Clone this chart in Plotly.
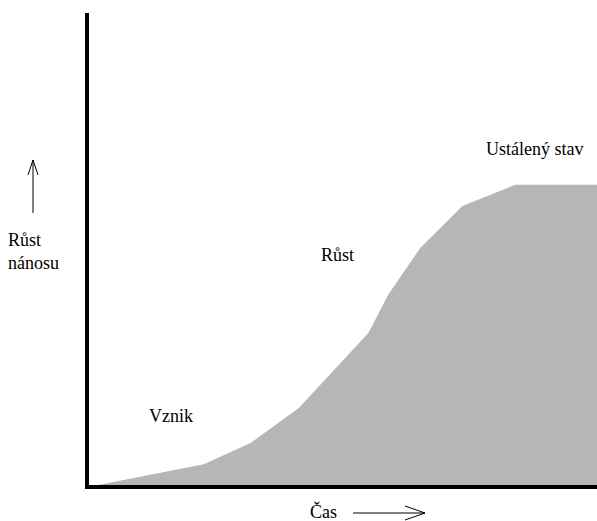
import plotly.graph_objects as go

# Data (arbitrary units)
time_vals = [1.8, 22.6, 31.8, 41.3, 55.0, 58.9, 65.2, 73.5, 83.9, 100.0]
growth_vals = [0.0, 4.4, 8.9, 16.3, 32.2, 40.3, 50.2, 59.1, 63.6, 63.6]

phase_labels = ["Vznik", "Růst", "Ustálený stav"]
phase_x = [16.1, 48.9, 87.6]
phase_y = [14.6, 48.7, 71.2]

y_label = "Růst<br>nánosu"
x_label = "Čas"

W, H = 597, 521
L, R, T, B = 89, 0, 13, 36
pw = W - L - R
ph = H - T - B


def px(x):
    return (x - L) / pw


def py(y):
    return (H - B - y) / ph


FONT = dict(family="'Liberation Serif', 'Times New Roman', 'DejaVu Serif', serif",
            size=18, color="black")

fig = go.Figure()
fig.add_trace(go.Scatter(
    x=time_vals, y=growth_vals, mode="lines", fill="tozeroy",
    line=dict(width=0, color="#b4b4b4"), fillcolor="#b6b6b6",
    hoverinfo="skip", showlegend=False,
))

annotations = []
for lab, xv, yv in zip(phase_labels, phase_x, phase_y):
    annotations.append(dict(x=xv, y=yv, xref="x", yref="y", text=lab,
                            showarrow=False, font=FONT))
annotations.append(dict(x=px(6), y=py(251), xref="paper", yref="paper", text=y_label,
                        showarrow=False, xanchor="left", yanchor="middle", align="left",
                        font=FONT))
annotations.append(dict(x=px(323), y=py(511), xref="paper", yref="paper", text=x_label,
                        showarrow=False, xanchor="center", yanchor="middle", font=FONT))

shapes = []
line_style = dict(color="black", width=1)
# vertical arrow
shapes.append(dict(type="line", xref="paper", yref="paper",
                   x0=px(33), y0=py(213), x1=px(33), y1=py(160), line=line_style))
shapes.append(dict(type="path", xref="paper", yref="paper",
                   path=f"M {px(28)},{py(175)} L {px(33)},{py(160)} L {px(38)},{py(175)}",
                   line=line_style))
# horizontal arrow
shapes.append(dict(type="line", xref="paper", yref="paper",
                   x0=px(353), y0=py(513), x1=px(425), y1=py(513), line=line_style))
shapes.append(dict(type="path", xref="paper", yref="paper",
                   path=f"M {px(405)},{py(506)} L {px(425)},{py(513)} L {px(405)},{py(520)}",
                   line=line_style))

fig.update_layout(
    width=W, height=H,
    margin=dict(l=L, r=R, t=T, b=B),
    paper_bgcolor="white", plot_bgcolor="white",
    font=FONT,
    annotations=annotations, shapes=shapes,
    xaxis=dict(range=[0, 100], showgrid=False, zeroline=False, showticklabels=False,
               ticks="", showline=True, linecolor="black", linewidth=4),
    yaxis=dict(range=[0, 100], showgrid=False, zeroline=False, showticklabels=False,
               ticks="", showline=True, linecolor="black", linewidth=4),
)

fig.write_html(
    "out.html",
    config={"displayModeBar": False},
    post_script="document.body.style.margin='0';document.body.style.overflow='hidden';",
)
